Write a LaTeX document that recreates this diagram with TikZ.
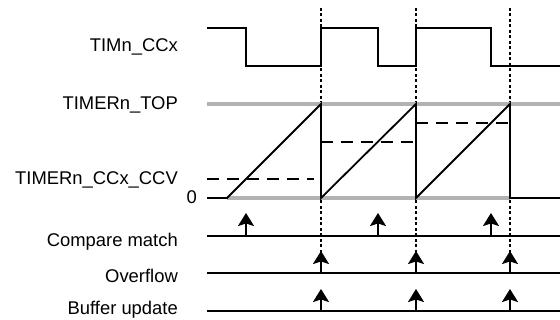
\documentclass[tikz,border=0pt]{standalone}
\usepackage{fontspec}
\setmainfont{Liberation Sans}
\usetikzlibrary{arrows.meta}
\tikzset{
  wave/.style={line width=1.8pt},
  level/.style={line width=3.2pt, gray!60},
  ccv/.style={line width=1.8pt, dash pattern=on 12pt off 8pt},
  tick/.style={line width=1.7pt, dash pattern=on 3pt off 2.5pt},
  event/.style={line width=1.8pt, -{Stealth[length=13pt,width=16pt,inset=2.5pt]}},
  sig/.style={anchor=base east, inner sep=0pt, font=\fontsize{18.4}{22}\selectfont}
}
\begin{document}
\begin{tikzpicture}[x=1pt,y=-1pt]
  \useasboundingbox (0,0) rectangle (560,320);
  % Signal names
  \node[sig] (ccx) at (178,52) {TIMn\_CCx};
  \node[sig] (top) at (178,110) {TIMERn\_TOP};
  \node[sig] (ccv) at (178,185) {TIMERn\_CCx\_CCV};
  \node[sig] (zero) at (197,204) {0};
  \node[sig] (match) at (178,247) {Compare match};
  \node[sig] (ovf) at (178,283) {Overflow};
  \node[sig] (buf) at (178,315) {Buffer update};
  % Overflow instants
  \draw[tick] (321,8) -- (321,252);
  \draw[tick] (416,8) -- (416,252);
  \draw[tick] (510,8) -- (510,252);
  % Output waveform
  \draw[wave] (207,28) -- (246,28) -- (246,66) -- (321,66) -- (321,28) -- (378,28)
    -- (378,66) -- (416,66) -- (416,28) -- (491,28) -- (491,66) -- (560,66);
  % TOP and zero levels
  \draw[level] (207,104) -- (560,104);
  \draw[level] (227,198) -- (510,198);
  % Counter
  \draw[wave] (207,198) -- (227,198) -- (321,104) -- (321,198) -- (416,104)
    -- (416,198) -- (510,104) -- (510,198) -- (560,198);
  % Compare values
  \draw[ccv] (207,179) -- (314,179);
  \draw[ccv] (321,142) -- (414,142);
  \draw[ccv] (416,123) -- (509,123);
  % Event lines
  \draw[wave] (207,236) -- (560,236);
  \draw[wave] (207,273) -- (560,273);
  \draw[wave] (207,311) -- (560,311);
  \foreach \x in {246,378,491}
    \draw[event] (\x,236) -- (\x,213);
  \foreach \x in {321,416,510} {
    \draw[event] (\x,273) -- (\x,251);
    \draw[event] (\x,311) -- (\x,289);
  }
\end{tikzpicture}
\end{document}
